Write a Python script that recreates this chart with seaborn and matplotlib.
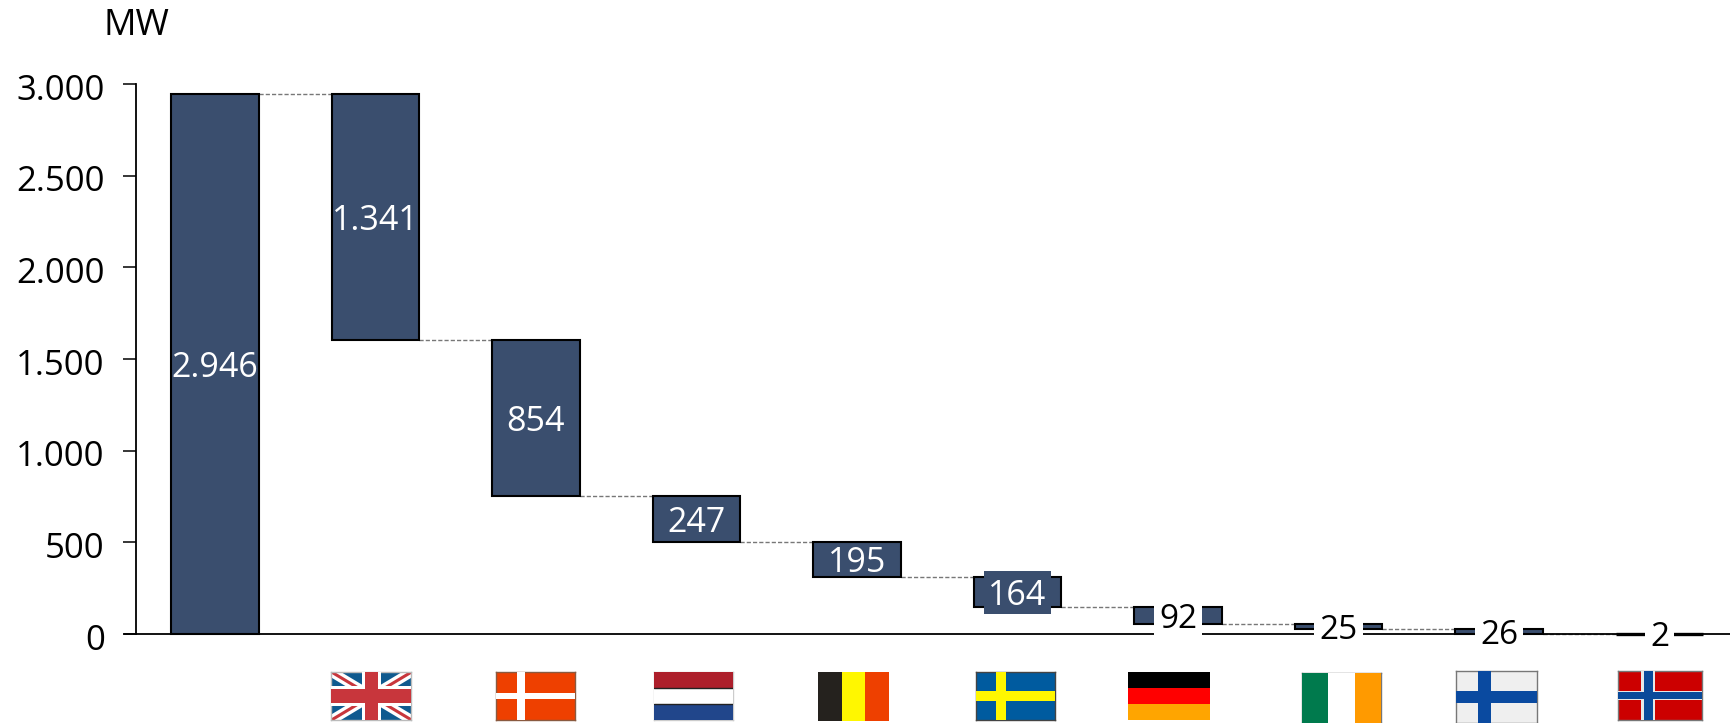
import matplotlib
matplotlib.use("Agg")
import matplotlib.pyplot as plt
import numpy as np
import seaborn as sns
from matplotlib.patches import Rectangle
from matplotlib.transforms import ScaledTranslation

countries = ["Total", "UK", "DK", "NL", "BE", "SE", "DE", "IE", "FI", "NO"]
values = [2946, 1341, 854, 247, 195, 164, 92, 25, 26, 2]
labels = ["2.946", "1.341", "854", "247", "195", "164", "92", "25", "26", "2"]
y_ticks = [0, 500, 1000, 1500, 2000, 2500, 3000]
y_tick_labels = ["0", "500", "1.000", "1.500", "2.000", "2.500", "3.000"]

W, H = 1731, 723
BAR = "#3a4e6e"

sns.set_theme(style="white")
plt.rcParams["font.family"] = ["Open Sans", "DejaVu Sans"]

# waterfall: first bar is the total, the rest step down from it
tops = np.array([values[0]] + list(values[0] - np.cumsum(values[1:]) + np.array(values[1:])))
bottoms = tops - np.array(values)

fig = plt.figure(figsize=(W / 100, H / 100), dpi=100, facecolor="white")
ax = fig.add_axes([136 / W, 1 - 634 / H, (W - 136) / W, 550 / H])

sns.barplot(x=countries, y=values, bottom=bottoms, width=0.545, color=BAR, saturation=1,
            edgecolor="black", linewidth=1.5, ax=ax, zorder=2)
for bar in ax.patches:
    bar.set_clip_on(False)
# the 2 MW bar is only its outline, which sits thicker than the baseline
ax.patches[-1].set_linewidth(2.4)
ax.patches[-1].set_zorder(3.5)

ax.set_xlim((136 - 215) / 160.5, (W - 215) / 160.5)
ax.set_ylim(0, 3000)
ax.set_xticks([])
ax.set_yticks(y_ticks)
ax.set_yticklabels(y_tick_labels, fontsize=25, color="black")
ax.tick_params(axis="y", left=True, length=9.5, width=1.1, pad=13, color="black")
shift = ScaledTranslation(0, -2 / 72, fig.dpi_scale_trans)
for t in ax.get_yticklabels():
    t.set_transform(t.get_transform() + shift)
ax.patch.set_alpha(0)
for name in ["top", "right"]:
    ax.spines[name].set_visible(False)
for name in ["left", "bottom"]:
    ax.spines[name].set_color("black")
    ax.spines[name].set_linewidth(1.3)
    ax.spines[name].set_zorder(3)

# baseline reaches the tick end on the left
ax.plot([-0.57, -0.49], [0, 0], color="black", lw=1.3, clip_on=False, zorder=3)

half = 0.545 / 2
for i in range(len(values) - 1):
    ax.plot([i + half, i + 1 - half], [bottoms[i + 1] + values[i + 1]] * 2, color="#777777",
            lw=1, ls=(0, (3, 1.5)), clip_on=False, zorder=1)

# label boxes, in bar units and MW, cut out the bar and baseline
mask_w = [0, 0, 0, 0, 0, 0.417, 0.305, 0.305, 0.305, 0.18]
for i, (lab, top, val) in enumerate(zip(labels, tops, values)):
    mid = top - val / 2
    small = i >= 6
    if mask_w[i]:
        ax.add_patch(Rectangle((i - mask_w[i] / 2, mid - 118), mask_w[i], 236, zorder=4, clip_on=False,
                               facecolor="white" if small else BAR, edgecolor="none"))
    ax.text(i, mid, lab, ha="center", va="center_baseline", fontsize=24 if small else 24.5,
            color="black" if small else "white", zorder=5, clip_on=False)

fig.text(104 / W, 1 - 26 / H, "MW", fontsize=26, color="black", ha="left", va="center")


def flag_ax(x0, x1, y0, y1, edge=None):
    a = fig.add_axes([x0 / W, 1 - y1 / H, (x1 - x0) / W, (y1 - y0) / H])
    a.set_xlim(0, 1)
    a.set_ylim(0, 1)
    a.set_xticks([])
    a.set_yticks([])
    for s in a.spines.values():
        s.set_visible(edge is not None)
        if edge:
            s.set_color(edge)
            s.set_linewidth(1)
    return a


def rect(a, x, y, w, h, c):
    a.add_patch(Rectangle((x, y), w, h, facecolor=c, edgecolor="none", zorder=3))


def stripes_h(a, colors):
    n = len(colors)
    for k, c in enumerate(colors):
        rect(a, 0, 1 - (k + 1) / n, 1, 1 / n, c)


def stripes_v(a, colors):
    n = len(colors)
    for k, c in enumerate(colors):
        rect(a, k / n, 0, 1 / n, 1, c)


def cross(a, bg, c, cx=0.4, tx=0.14, ty=0.18, cy=0.5):
    a.set_facecolor(bg)
    rect(a, cx - tx / 2, 0, tx, 1, c)
    rect(a, 0, cy - ty / 2, 1, ty, c)


# UK
a = flag_ax(331.5, 411.5, 672, 720, "#bbbbbb")
a.set_facecolor("#0f5a8f")
for pts, c, lw in [([(0, 1), (1, 0)], "white", 7), ([(0, 0), (1, 1)], "white", 7),
                   ([(0, 1), (1, 0)], "#c8363c", 2.2), ([(0, 0), (1, 1)], "#c8363c", 2.2)]:
    a.plot(*zip(*pts), color=c, lw=lw, solid_capstyle="butt", zorder=2)
rect(a, 0.38, 0, 0.24, 1, "white")
rect(a, 0, 0.3, 1, 0.4, "white")
rect(a, 0.42, 0, 0.16, 1, "#c8363c")
rect(a, 0, 0.36, 1, 0.28, "#c8363c")

# DK
a = flag_ax(496, 575, 672, 720, "#8a5a40")
cross(a, "#ee4000", "white", cx=0.315, tx=0.11, ty=0.14)

# NL
a = flag_ax(654, 733, 672, 720, "#cccccc")
stripes_h(a, ["#ad1f2b", "white", "#21468b"])
a.axhline(2 / 3, color="#222222", lw=1, zorder=4)
a.axhline(1 / 3, color="#222222", lw=1, zorder=4)

# BE
a = flag_ax(818, 889, 672, 721)
stripes_v(a, ["#25221e", "#fff700", "#ee4000"])

# SE
a = flag_ax(976, 1055, 672, 720, "#444444")
cross(a, "#005b9f", "#fff700", cx=0.315, tx=0.13, ty=0.19)

# DE
a = flag_ax(1128, 1210, 672, 720)
stripes_h(a, ["black", "#ff0000", "#ffa500"])

# IE
a = flag_ax(1302, 1381, 673, 723, "#777777")
stripes_v(a, ["#007a4d", "white", "#ff9a00"])

# FI
a = flag_ax(1456, 1537.5, 671, 723, "#777777")
cross(a, "#efefef", "#0a4aa0", cx=0.35, tx=0.17, ty=0.23)

# NO
a = flag_ax(1618, 1702, 671, 720, "#777777")
cross(a, "#cc0000", "#e8e8e8", cx=0.36, tx=0.17, ty=0.19)
rect(a, 0.36 - 0.055, 0, 0.11, 1, "#0a4a9a")
rect(a, 0, 0.5 - 0.065, 1, 0.13, "#0a4a9a")

fig.savefig("out.png", dpi=100)
